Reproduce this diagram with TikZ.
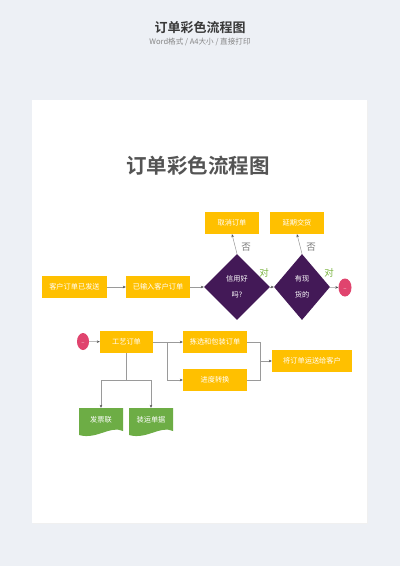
\documentclass[tikz,border=0pt]{standalone}
\usepackage{fontspec}
\setmainfont{Noto Sans CJK SC}[BoldFont={Noto Sans CJK SC Bold}]
\usetikzlibrary{shapes.geometric,arrows.meta}
\definecolor{bg}{HTML}{EDF0F5}
\definecolor{boxor}{HTML}{FFC000}
\definecolor{purp}{HTML}{431957}
\definecolor{docgreen}{HTML}{6DAD45}
\definecolor{endred}{HTML}{E0446E}
\definecolor{linegray}{HTML}{9A9A9A}
\definecolor{tipgray}{HTML}{555555}
\definecolor{labgray}{HTML}{7A7A7A}
\definecolor{labgreen}{HTML}{7DB543}
\begin{document}
\begin{tikzpicture}[x=1pt,y=-1pt,
  box/.style={fill=boxor,text=white,minimum height=22,inner sep=0,font=\fontsize{7.2}{8}\selectfont},
  dia/.style={diamond,fill=purp,text=white,inner sep=0,align=center,font=\fontsize{7.2}{16}\selectfont},
  term/.style={ellipse,fill=endred,text=white,minimum width=13,minimum height=18,inner sep=0,font=\fontsize{5}{6}\selectfont},
  doctext/.style={text=white,minimum width=44,minimum height=24,inner sep=0,font=\fontsize{7.2}{8}\selectfont},
  conn/.style={draw=linegray,line width=0.5pt},
  arr/.style={conn,-{Stealth[length=3pt,width=2.6pt,color=tipgray]}},
  nolab/.style={text=labgray,font=\fontsize{9.5}{10}\selectfont,inner sep=0},
  yeslab/.style={text=labgreen,font=\fontsize{9.5}{10}\selectfont,inner sep=0}
]
\useasboundingbox (0,0) rectangle (400,566);
\fill[bg] (0,0) rectangle (400,566);
% page card
\fill[black!6] (32.8,100.8) rectangle (368,524);
\fill[white] (32,100) rectangle (367,523);
% top titles
\node[text=black!78,font=\bfseries\fontsize{13}{15}\selectfont] (toptitle) at (200,28) {订单彩色流程图};
\node[text=black!48,font=\fontsize{7.6}{8}\selectfont] (subtitle) at (200,42) {Word格式 / A4大小 / 直接打印};
% inner title
\node[text=black!67,font=\bfseries\fontsize{20.5}{24}\selectfont] (title) at (198,166) {订单彩色流程图};

% row 1
\node[box,minimum width=65] (sent) at (74.5,287) {客户订单已发送};
\node[box,minimum width=64] (entered) at (158,287) {已输入客户订单};
\node[dia,minimum width=66,minimum height=66] (credit) at (237,287) {信用好\\吗?};
\node[dia,minimum width=56,minimum height=66] (stock) at (302,287) {有现\\货的};
\node[box,minimum width=54] (cancel) at (232,223) {取消订单};
\node[box,minimum width=54] (delay) at (297,223) {延期交货};
\node[term] (end1) at (345,287.5) {\raisebox{-2pt}{\textunderscore}};

\draw[arr] (sent) -- (entered);
\draw[arr] (entered) -- (credit);
\draw[arr] (credit) -- (stock);
\draw[arr] (stock) -- (end1);
\draw[arr] (credit.north) -- (cancel.south);
\draw[arr] (stock.north) -- (delay.south);
\node[nolab] (no1) at (246,247) {否};
\node[nolab] (no2) at (311,247) {否};
\node[yeslab] (yes1) at (264,273) {对};
\node[yeslab] (yes2) at (329,273) {对};

% row 2
\node[term,minimum width=12,minimum height=17] (start2) at (83,341.5) {\raisebox{-2pt}{\textunderscore}};
\node[box,minimum width=53] (craft) at (126.5,342) {工艺订单};
\node[box,minimum width=64] (pick) at (215,342) {拣选和包装订单};
\node[box,minimum width=64] (prog) at (215,380) {进度转换};
\node[box,minimum width=80] (ship) at (312,361) {将订单运送给客户};

\draw[arr] (start2) -- (craft);
\draw[arr] (craft.east) -- (pick.west);
\draw[arr] (craft.east) -- ++(14,0) |- (prog.west);
\draw[conn] (pick.east) -- ++(13,0) |- (prog.east);
\coordinate (merge) at (260,361);
\draw[arr] (merge) -- (ship.west);

% documents
\fill[docgreen] (79,408) -- (123,408) -- (123,431)
  .. controls (110,425) and (97,440) .. (79,435) -- cycle;
\fill[docgreen] (129,408) -- (173,408) -- (173,431)
  .. controls (160,425) and (147,440) .. (129,435) -- cycle;
\node[doctext] (invoice) at (101,420) {发票联};
\node[doctext] (shipdoc) at (151,420) {装运单据};

\coordinate (split) at (126.5,380);
\draw[conn] (craft.south) -- (split);
\draw[arr] (split) -| (invoice.north);
\draw[arr] (split) -| (shipdoc.north);
\end{tikzpicture}
\end{document}
